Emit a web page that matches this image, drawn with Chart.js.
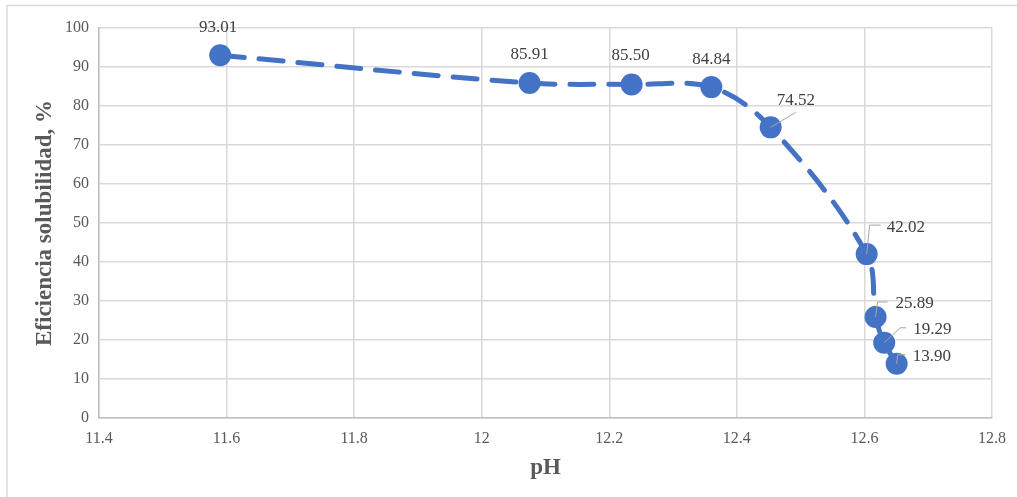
<!DOCTYPE html>
<html>
<head>
<meta charset="utf-8">
<script src="https://cdn.jsdelivr.net/npm/chart.js@4.4.1/dist/chart.umd.min.js"></script>
<style>
  html, body { margin: 0; padding: 0; background: #ffffff; }
  #wrap { position: relative; width: 1017px; height: 497px; }
  canvas { display: block; }
</style>
</head>
<body>
<div id="wrap"><canvas id="c" width="1017" height="497"></canvas></div>
<script>
// pH readings and the matching solubility efficiency (%)
const phValues = [11.59, 12.075, 12.235, 12.36, 12.453, 12.6035, 12.6175, 12.631, 12.6505];
const efficiency = [93.01, 85.91, 85.50, 84.84, 74.52, 42.02, 25.89, 19.29, 13.90];

const xTicks = [11.4, 11.6, 11.8, 12, 12.2, 12.4, 12.6, 12.8];
const yTicks = [0, 10, 20, 30, 40, 50, 60, 70, 80, 90, 100];

// Label placement per point: text anchor offset (dx, dy) and optional leader elbow
const labelPlacement = [
  { dx: -2, dy: -28, align: 'center' },
  { dx: 0, dy: -28, align: 'center' },
  { dx: -1, dy: -29, align: 'center' },
  { dx: 0, dy: -28, align: 'center' },
  { dx: 6, dy: -27, align: 'left', leader: [[0, 0], [25, -15]] },
  { dx: 20, dy: -27, align: 'left', leader: [[0, 0], [3, -29], [14, -29]] },
  { dx: 20, dy: -13, align: 'left', leader: [[0, 0], [2, -15], [12, -15]] },
  { dx: 29, dy: -13, align: 'left', leader: [[0, 0], [16, -15], [22, -15]] },
  { dx: 16, dy: -7, align: 'left', leader: [[0, 0], [1, -9], [9, -9]] }
];

const serif = "'Liberation Serif', 'Times New Roman', serif";
const blue = '#4472C4';

const points = phValues.map((x, i) => ({ x, y: efficiency[i] }));

const frame = {
  id: 'frame',
  beforeDraw(chart) {
    const ctx = chart.ctx;
    ctx.save();
    ctx.fillStyle = '#ffffff';
    ctx.fillRect(0, 0, chart.width, chart.height);
    ctx.strokeStyle = '#d9d9d9';
    ctx.lineWidth = 1.5;
    ctx.strokeRect(7, 5.5, chart.width + 20, chart.height + 20);
    ctx.restore();
  }
};

const valueLabels = {
  id: 'valueLabels',
  afterDatasetsDraw(chart) {
    const ctx = chart.ctx;
    const meta = chart.getDatasetMeta(0);
    ctx.save();
    ctx.font = '17px ' + serif;
    ctx.fillStyle = '#404040';
    ctx.textBaseline = 'middle';
    meta.data.forEach((pt, i) => {
      const p = labelPlacement[i];
      if (p.leader) {
        ctx.strokeStyle = '#a6a6a6';
        ctx.lineWidth = 1;
        ctx.beginPath();
        p.leader.forEach(([lx, ly], k) => {
          if (k === 0) ctx.moveTo(pt.x + lx, pt.y + ly);
          else ctx.lineTo(pt.x + lx, pt.y + ly);
        });
        ctx.stroke();
      }
      ctx.textAlign = p.align;
      ctx.fillText(efficiency[i].toFixed(2), pt.x + p.dx, pt.y + p.dy);
    });
    ctx.restore();
  }
};

new Chart(document.getElementById('c'), {
  type: 'scatter',
  data: {
    datasets: [{
      data: points,
      showLine: true,
      borderColor: blue,
      backgroundColor: blue,
      borderWidth: 5,
      borderDash: [24, 15],
      borderCapStyle: 'round',
      tension: 0.35,
      pointRadius: 11,
      pointHoverRadius: 11,
      pointBackgroundColor: blue,
      pointBorderColor: blue,
      pointBorderWidth: 0
    }]
  },
  options: {
    responsive: false,
    animation: false,
    events: [],
    layout: { padding: { left: 0, top: 28, right: 25, bottom: 0 } },
    plugins: {
      legend: { display: false },
      tooltip: { enabled: false }
    },
    scales: {
      x: {
        type: 'linear',
        min: 11.4,
        max: 12.8,
        afterBuildTicks(axis) { axis.ticks = xTicks.map(v => ({ value: v })); },
        afterFit(axis) { axis.height = 79; },
        grid: { color: '#d9d9d9', lineWidth: 1.5, drawTicks: false },
        border: { color: '#bfbfbf', width: 1.5 },
        ticks: {
          color: '#595959',
          font: { family: serif, size: 16 },
          padding: 11,
          maxRotation: 0,
          callback: v => String(v)
        },
        title: {
          display: true,
          text: 'pH',
          color: '#595959',
          font: { family: serif, size: 23, weight: 'bold' },
          padding: { top: 0, bottom: 15 }
        }
      },
      y: {
        min: 0,
        max: 100,
        afterBuildTicks(axis) { axis.ticks = yTicks.map(v => ({ value: v })); },
        afterFit(axis) { axis.width = 99; },
        grid: { color: '#d9d9d9', lineWidth: 1.5, drawTicks: false },
        border: { color: '#bfbfbf', width: 1.5 },
        ticks: {
          color: '#595959',
          font: { family: serif, size: 16 },
          padding: 10
        },
        title: {
          display: true,
          text: 'Eficiencia solubilidad, %',
          color: '#595959',
          font: { family: serif, size: 23, weight: 'bold' },
          padding: { top: 31, bottom: 0 }
        }
      }
    }
  },
  plugins: [frame, valueLabels]
});
</script>
</body>
</html>
